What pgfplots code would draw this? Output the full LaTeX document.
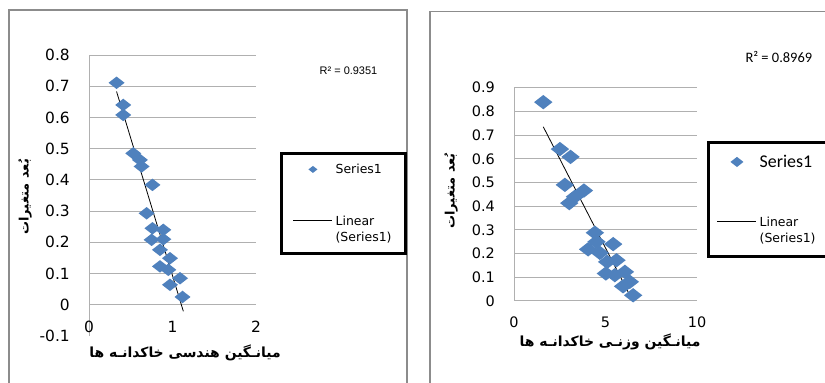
\documentclass[border=0pt]{standalone}
\usepackage{fontspec}
\usepackage{pgfplots}
\pgfplotsset{compat=1.18}
\setmainfont{DejaVu Sans}
\newfontfamily\arabicfont[Script=Arabic]{DejaVu Sans}
\newfontfamily\carlito{Carlito}
\newfontfamily\arial{Liberation Sans}
\TeXXeTstate=1
\definecolor{exblue}{HTML}{4F81BD}
\definecolor{gridgray}{HTML}{B0B0B0}
\definecolor{framegray}{HTML}{8C8C8C}

\pgfdeclareplotmark{xdiamond}{%
 \pgfpathmoveto{\pgfqpoint{\pgfplotmarksize}{0pt}}%
 \pgfpathlineto{\pgfqpoint{0pt}{0.78\pgfplotmarksize}}%
 \pgfpathlineto{\pgfqpoint{-\pgfplotmarksize}{0pt}}%
 \pgfpathlineto{\pgfqpoint{0pt}{-0.78\pgfplotmarksize}}%
 \pgfpathclose
 \pgfusepathqfill}

\pgfplotsset{
 exstyle/.style={
   scale only axis, anchor=south west,
   axis y line*=left, axis x line*=bottom,
   x axis line style={draw=none},
   y axis line style={draw=gridgray, line width=1bp, -},
   ymajorgrids, grid style={draw=gridgray, line width=1bp},
   major tick length=0pt,
   tick style={draw=none},
   clip=false,
   legend cell align=left,
   yticklabel style={anchor=east, inner sep=0pt, xshift=-19bp},
   xlabel style={anchor=center, font=\arabicfont\bfseries\fontsize{14}{16}\selectfont},
   ylabel style={anchor=center, font=\arabicfont\bfseries\fontsize{13}{15}\selectfont},
 },
 markimg/.style={legend image code/.code={%
   \path[draw=none,fill=none] (0bp,0bp) -- (39bp,0bp);
   \fill[exblue,draw=none] (19.5bp-#1,0bp) -- (19.5bp,0.78*#1) -- (19.5bp+#1,0bp) -- (19.5bp,-0.78*#1) -- cycle;}},
 lineimg/.style={legend image code/.code={%
   \draw[black, line width=0.8bp] (0bp,#1) -- (39bp,#1);}},
}

\begin{document}
\begin{tikzpicture}
\path[use as bounding box] (0bp,0bp) rectangle (825bp,383bp);
\clip (0bp,0bp) rectangle (825bp,383bp);
\fill[white] (0bp,0bp) rectangle (825bp,383bp);
\draw[framegray, line width=1.5bp] (9bp,-5bp) -- (9bp,373bp) -- (407bp,373bp) -- (407bp,-5bp);
\draw[framegray, line width=1.5bp] (430bp,-5bp) -- (430bp,371.3bp) -- (835bp,371.3bp);

% ---------- left chart ----------
\begin{axis}[exstyle,
  at={(89bp,47bp)}, width=167bp, height=281bp,
  xmin=0, xmax=2, ymin=-0.1, ymax=0.8,
  xtick={0,1,2}, xticklabels={0,1,2},
  ytick={0,0.1,0.2,0.3,0.4,0.5,0.6,0.7,0.8},
  yticklabels={0,0.1,0.2,0.3,0.4,0.5,0.6,0.7,0.8},
  extra y ticks={-0.1}, extra y tick labels={-0.1},
  extra y tick style={grid=none},
  ticklabel style={font=\fontsize{15.5}{18}\selectfont},
  xticklabel style={anchor=center, inner sep=0pt, yshift=9.3bp},
  xlabel={\beginR میانـگین هندسی خاکدانـه ها\endR},
  xlabel style={at={(axis description cs:0.575,-0.06)}},
  ylabel={\beginR بُعد متغیرات\endR},
  ylabel style={at={(axis description cs:-0.383,0.495)}},
  legend style={at={(axis description cs:1.144,0.655)}, anchor=north west,
    draw=black, line width=3bp, inner xsep=11.5bp, inner ysep=8.5bp,
    row sep=37bp, column sep=0.8bp, font=\fontsize{12.5}{16}\selectfont},
]
\addplot[only marks, mark=xdiamond, mark size=8bp, exblue, markimg=4.5bp] coordinates {
(0.33,0.711) (0.41,0.640) (0.41,0.608) (0.53,0.485) (0.61,0.464)
(0.63,0.443) (0.76,0.384) (0.69,0.293) (0.76,0.245) (0.89,0.240)
(0.75,0.208) (0.89,0.210) (0.85,0.176) (0.97,0.149) (0.85,0.123)
(0.95,0.112) (1.09,0.085) (0.97,0.064) (1.12,0.025)};
\addlegendentry{Series1}
\addplot[black, line width=0.8bp, lineimg=8.5bp] coordinates {(0.33,0.683) (1.13,-0.021)};
\addlegendentry[align=left]{Linear\\(Series1)}
\end{axis}
\node[font=\arial\fontsize{11}{13}\selectfont] at (348.5bp,312bp) {R² = 0.9351};

% ---------- right chart ----------
\begin{axis}[exstyle,
  at={(514bp,82bp)}, width=183bp, height=213.3bp,
  xmin=0, xmax=10, ymin=0, ymax=0.9,
  xtick={0,5,10}, xticklabels={0,5,10},
  ytick={0,0.1,0.2,0.3,0.4,0.5,0.6,0.7,0.8,0.9},
  yticklabels={0,0.1,0.2,0.3,0.4,0.5,0.6,0.7,0.8,0.9},
  ticklabel style={font=\fontsize{14.5}{17}\selectfont},
  xticklabel style={anchor=center, inner sep=0pt, yshift=-21bp},
  xlabel={\beginR میانـگین وزنـی خاکدانـه ها\endR},
  xlabel style={at={(axis description cs:0.525,-0.19)}},
  ylabel={\beginR بُعد متغیرات\endR},
  ylabel style={at={(axis description cs:-0.344,0.516)}},
  legend style={at={(axis description cs:1.055,0.750)}, anchor=north west,
    draw=black, line width=3bp, inner xsep=8.5bp, inner ysep=10.5bp,
    row sep=44bp, column sep=0.8bp, font=\fontsize{12.5}{16}\selectfont},
]
\addplot[only marks, mark=xdiamond, mark size=9.2bp, exblue, markimg=6.5bp] coordinates {
(1.60,0.839) (2.51,0.641) (3.09,0.608) (2.78,0.490) (3.02,0.413)
(3.33,0.440) (3.82,0.466) (4.42,0.288) (4.51,0.250) (4.05,0.218)
(4.69,0.203) (5.42,0.240) (5.60,0.172) (5.09,0.165) (5.02,0.116)
(5.51,0.109) (6.06,0.123) (6.33,0.081) (5.96,0.062) (6.51,0.024)};
\addlegendentry{\carlito\fontsize{18}{20}\selectfont Series1}
\addplot[black, line width=0.8bp, lineimg=8.5bp] coordinates {(1.60,0.735) (6.51,-0.003)};
\addlegendentry[align=left]{Linear\\(Series1)}
\end{axis}
\node[anchor=west, font=\carlito\fontsize{14.5}{17}\selectfont] at (742bp,326bp) {R² = 0.8969};
\end{tikzpicture}
\end{document}
